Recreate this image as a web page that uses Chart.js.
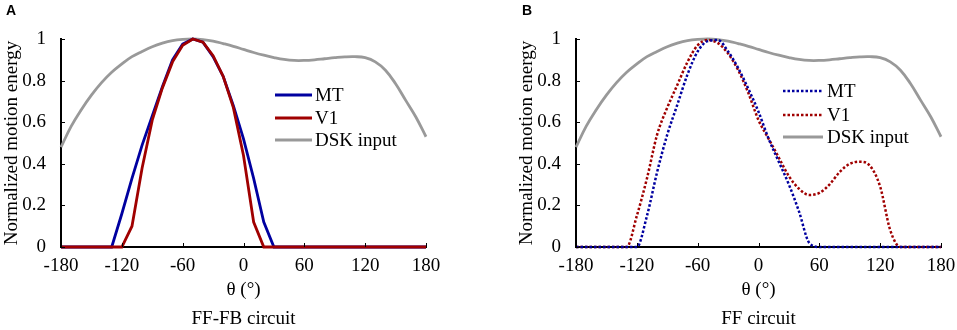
<!DOCTYPE html>
<html><head><meta charset="utf-8">
<script src="https://cdn.jsdelivr.net/npm/chart.js@4.4.0/dist/chart.umd.min.js"></script>
<style>
html,body{margin:0;padding:0;background:#fff;width:957px;height:330px;overflow:hidden;}
.panel{position:absolute;top:0;height:330px;}
#pa{left:0;width:480px;}
#pb{left:515px;width:442px;}
.lbl{position:absolute;top:1px;font:bold 14px "Liberation Sans",Arial,sans-serif;line-height:18px;}
.cap{position:absolute;top:306px;font:19px "Liberation Serif","Times New Roman",serif;line-height:24px;text-align:center;width:365px;left:61px;}
</style></head><body>
<div class="panel" id="pa"><canvas id="ca" width="480" height="330"></canvas>
<div class="lbl" style="left:6px">A</div><div class="cap">FF-FB circuit</div></div>
<div class="panel" id="pb"><canvas id="cb" width="442" height="330"></canvas>
<div class="lbl" style="left:7px">B</div><div class="cap">FF circuit</div></div>
<script>
// ---- data (theta in degrees) ----
const theta = [-180,-170,-160,-150,-140,-130,-120,-110,-100,-90,-80,-70,-60,-50,-40,-30,-20,-10,0,10,20,30,40,50,60,70,80,90,100,110,120,130,140,150,160,170,180];
const dskInput = [0.48,0.58,0.66,0.73,0.79,0.84,0.88,0.915,0.94,0.963,0.98,0.992,0.998,1.0,0.997,0.99,0.978,0.965,0.95,0.935,0.922,0.911,0.902,0.897,0.897,0.90,0.905,0.91,0.914,0.915,0.91,0.89,0.85,0.785,0.705,0.625,0.53];
const mtA = [0,0,0,0,0,0,0.16,0.33,0.49,0.63,0.77,0.90,0.975,1.0,0.985,0.915,0.82,0.68,0.52,0.33,0.12,0,0,0,0,0,0,0,0,0,0,0,0,0,0,0,0];
const v1A = [0,0,0,0,0,0,0,0.10,0.38,0.61,0.765,0.89,0.97,1.0,0.985,0.92,0.82,0.67,0.44,0.12,0,0,0,0,0,0,0,0,0,0,0,0,0,0,0,0,0];
const mtB = [0,0,0,0,0,0,0,0.15,0.36,0.54,0.685,0.83,0.94,0.99,0.995,0.94,0.86,0.76,0.65,0.52,0.41,0.30,0.17,0.02,0,0,0,0,0,0,0,0,0,0,0,0,0];
const v1B = [0,0,0,0,0,0,0.15,0.33,0.54,0.67,0.78,0.89,0.97,0.995,0.98,0.93,0.85,0.74,0.61,0.52,0.43,0.34,0.28,0.25,0.26,0.30,0.36,0.40,0.41,0.39,0.29,0.08,0,0,0,0,0];
const xTicks = [-180,-120,-60,0,60,120,180];
const yTicks = [0,0.2,0.4,0.6,0.8,1];
const yTickLabels = ['0','0.2','0.4','0.6','0.8','1'];
const seriesNames = ['MT','V1','DSK input'];

const BLUE='#0000a0', RED='#a00000', GRAY='#999999';
const SERIF='"Liberation Serif","Times New Roman",serif';

function pts(vals){ return theta.map((t,i)=>({x:t,y:vals[i]})); }

const decor = {
  id:'decor',
  afterDatasetsDraw(chart, args, opts){
    const ctx = chart.ctx, xs = chart.scales.x, ys = chart.scales.y;
    ctx.save();
    ctx.strokeStyle='#000'; ctx.lineWidth=1; ctx.setLineDash([]);
    xTicks.forEach(v=>{const p=Math.round(xs.getPixelForValue(v))+0.5; ctx.beginPath(); ctx.moveTo(p,ys.bottom); ctx.lineTo(p,ys.bottom-4); ctx.stroke();});
    yTicks.forEach(v=>{const p=Math.round(ys.getPixelForValue(v))+0.5; ctx.beginPath(); ctx.moveTo(xs.left,p); ctx.lineTo(xs.left+4,p); ctx.stroke();});
    // legend
    ctx.font = '19px '+SERIF; ctx.textBaseline='middle'; ctx.fillStyle='#000';
    chart.data.datasets.forEach((ds,i)=>{
      const y = opts.rows[i];
      ctx.beginPath();
      ctx.strokeStyle = ds.borderColor; ctx.lineWidth = ds.borderWidth;
      ctx.setLineDash(ds.borderDash||[]);
      ctx.moveTo(opts.x0,y); ctx.lineTo(opts.x1,y); ctx.stroke();
      ctx.setLineDash([]);
      ctx.fillText(ds.label, opts.tx, y+1);
    });
    ctx.restore();
  }
};

function makeChart(id, mt, v1, dotted, padRight, legend, mtOrder, v1Order){
  const dash = dotted ? [2.5,2] : [];
  const lw = dotted ? 2.5 : 2.8;
  const mode = dotted ? 'monotone' : 'default';
  const tension = dotted ? 0.4 : 0;
  return new Chart(document.getElementById(id), {
    type:'line',
    data:{datasets:[
      {label:seriesNames[0], data:pts(mt), borderColor:BLUE, borderWidth:lw, borderDash:dash, borderCapStyle:'butt', cubicInterpolationMode:mode, tension:tension, order:mtOrder, clip:false},
      {label:seriesNames[1], data:pts(v1), borderColor:RED, borderWidth:lw, borderDash:dash, borderCapStyle:'butt', cubicInterpolationMode:mode, tension:tension, order:v1Order, clip:false},
      {label:seriesNames[2], data:pts(dskInput), borderColor:GRAY, borderWidth:2.8, cubicInterpolationMode:'default', tension:0.4, order:3, clip:false}
    ]},
    options:{
      responsive:false, animation:false, devicePixelRatio:1,
      layout:{padding:{left:0, top:39, right:padRight, bottom:25}},
      elements:{point:{radius:0}},
      plugins:{legend:{display:false}, tooltip:{enabled:false}, decor:legend},
      scales:{
        x:{type:'linear', min:-180, max:180,
           afterBuildTicks:(s)=>{s.ticks = xTicks.map(v=>({value:v}));},
           grid:{display:false}, border:{display:true,color:'#000',width:2},
           ticks:{color:'#000', font:{family:SERIF,size:19}, padding:0, maxRotation:0, autoSkip:false,
                  callback:(v)=>String(v)},
           title:{display:true, text:'θ (°)', color:'#000', font:{family:SERIF,size:19}, padding:{top:0,bottom:4}},
           afterFit:(s)=>{s.height=58;}},
        y:{type:'linear', min:0, max:1,
           afterBuildTicks:(s)=>{s.ticks = yTicks.map(v=>({value:v}));},
           grid:{display:false}, border:{display:true,color:'#000',width:2},
           ticks:{color:'#000', font:{family:SERIF,size:19}, padding:7,
                  callback:(v)=>{const i=yTicks.indexOf(v); return i>=0?yTickLabels[i]:'';}},
           title:{display:true, text:'Normalized motion energy', color:'#000', font:{family:SERIF,size:19}, padding:{top:1,bottom:0}},
           afterFit:(s)=>{s.width=61;}}
      }
    },
    plugins:[decor]
  });
}

makeChart('ca', mtA, v1A, false, 54, {x0:275, x1:312, tx:315, rows:[95,118,140]}, 2, 1);
makeChart('cb', mtB, v1B, true, 16, {x0:268, x1:308, tx:312, rows:[91,115,137]}, 1, 2);
</script>
</body></html>
